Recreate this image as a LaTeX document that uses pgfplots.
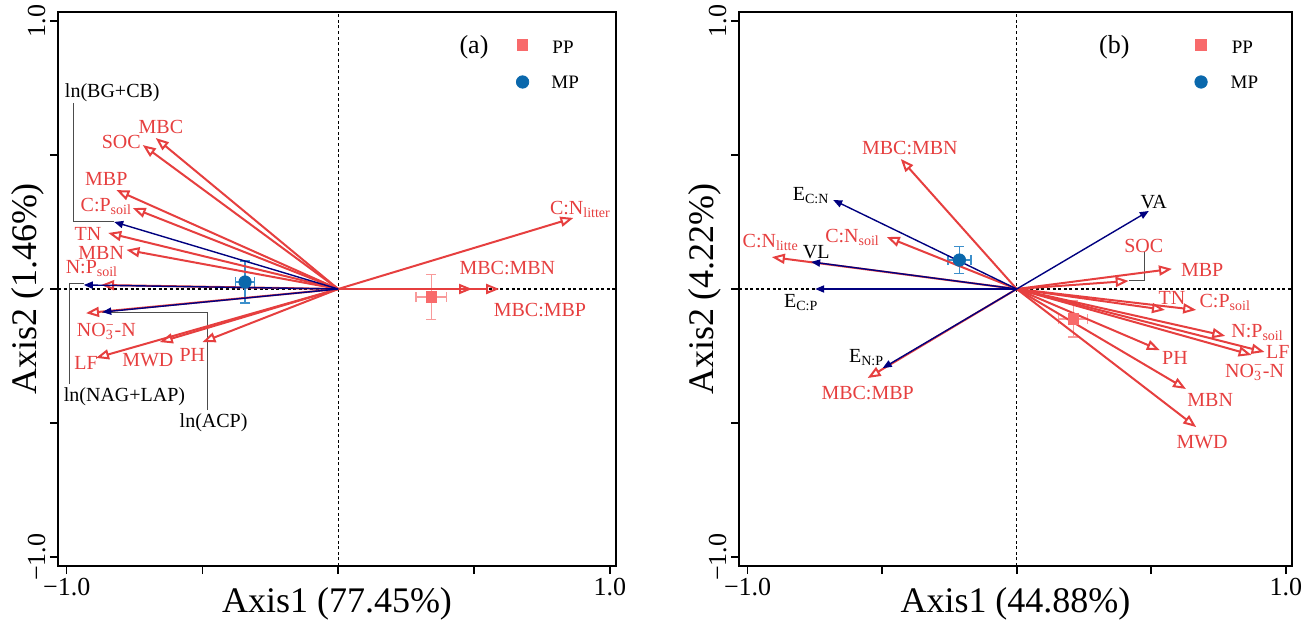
\documentclass[border=0pt]{standalone}
\usepackage{pgfplots}
\pgfplotsset{compat=1.18}
\usepackage{fontspec}
\setmainfont{Liberation Serif}
\usetikzlibrary{arrows.meta}
\definecolor{myred}{HTML}{E63F3F}
\definecolor{mynavy}{HTML}{00007F}
\definecolor{ppcol}{HTML}{F86A6B}
\definecolor{pperr}{HTML}{F89A9A}
\definecolor{mpcol}{HTML}{0A68AC}
\definecolor{mperr}{HTML}{3C8FCB}
\tikzset{
  rarr/.style={draw=myred, line width=1pt, -{Triangle[open, length=6.5pt, width=5pt]}},
  barr/.style={draw=mynavy, line width=0.7pt, -{Triangle[length=4.5pt, width=3.6pt]}},
  rl/.style={text=myred, font=\fontsize{10}{12}\selectfont, inner sep=0pt},
  bl/.style={text=black, font=\fontsize{10}{12}\selectfont, inner sep=0pt},
  lead/.style={draw=black!70, line width=0.5pt},
}
\newcommand{\R}[2]{\addplot[rarr] coordinates {(0,0) (#1,#2)};}
\newcommand{\B}[2]{\addplot[barr] coordinates {(0,0) (#1,#2)};}
\pgfplotsset{
  pcoa/.style={
    anchor=south west, scale only axis, height=277pt,
    xmin=-1.032, xmax=1.023, ymin=-1.033, ymax=1.033,
    clip=false,
    axis line style={line width=0.8pt},
    xtick={-1,-0.5,0,0.5,1}, xticklabels={−1.0,,,,1.0},
    ytick={-1,-0.5,0,0.5,1}, yticklabels={−1.0,,,,1.0},
    tick align=outside, tick pos=left, major tick length=4pt,
    tick style={line width=0.8pt, black},
    xticklabel style={font=\fontsize{13}{15}\selectfont, inner sep=2pt},
    yticklabel style={font=\fontsize{13}{15}\selectfont, rotate=90, anchor=south, inner sep=2pt},
    label style={font=\fontsize{18}{20}\selectfont},
    xlabel style={at={(axis description cs:0.5,-0.068)}, anchor=center},
  },
  zerol/.style={black, line width=0.6pt, dash pattern=on 1.5pt off 1.3pt},
  pperrs/.style={error bars/.cd, x dir=both, x explicit, y dir=both, y explicit,
    error bar style={color=pperr, line width=0.7pt},
    error mark options={rotate=90, mark size=2.5pt, color=pperr, line width=0.7pt}},
  mperrs/.style={error bars/.cd, x dir=both, x explicit, y dir=both, y explicit,
    error bar style={color=mperr, line width=0.7pt},
    error mark options={rotate=90, mark size=2.5pt, color=mperr, line width=0.7pt}},
}
\begin{document}
\begin{tikzpicture}
\useasboundingbox (0,0) rectangle (655.5pt,310.5pt);
% ---------------- panel (a)
\begin{axis}[pcoa, at={(29pt,27.5pt)}, width=279pt,
  xlabel={Axis1 (77.45\%)}, ylabel={Axis2 (1.46\%)},
  ylabel style={at={(axis description cs:-0.054,0.5)}, anchor=center}]
\addplot[zerol] coordinates {(0,-1.033) (0,1.033)};
\addplot[zerol] coordinates {(-1.032,0) (1.023,0)};
% points
\addplot[only marks, mark=square*, mark size=2.6pt, color=ppcol, pperrs]
  coordinates {(0.343,-0.030) +- (0.056,0.084)};
\addplot[only marks, mark=*, mark size=3.1pt, color=mpcol, mperrs]
  coordinates {(-0.343,0.026) +- (0.035,0.078)};
% leaders
\addplot[lead] coordinates {(-0.974,0.694) (-0.974,0.250) (-0.825,0.250)};
\addplot[lead] coordinates {(-0.937,0.019) (-0.989,0.019) (-0.989,-0.354)};
\addplot[lead] coordinates {(-0.869,-0.086) (-0.481,-0.086) (-0.481,-0.451)};
% red arrows
\R{-0.672}{0.563}
\R{-0.720}{0.537}
\R{-0.817}{0.369}
\R{-0.757}{0.302}
\R{-0.847}{0.209}
\R{-0.780}{0.146}
\R{-0.873}{0.015}
\R{-0.929}{-0.090}
\R{-0.892}{-0.257}
\R{-0.657}{-0.198}
\R{-0.500}{-0.198}
\R{0.866}{0.265}
\R{0.493}{0.0}
\R{0.593}{0.0}
% blue arrows
\B{-0.825}{0.250}
\B{-0.937}{0.015}
\B{-0.869}{-0.086}
% labels
\node[bl] at (axis cs:-0.832,0.731) {ln(BG+CB)};
\node[rl] at (axis cs:-0.653,0.604) {MBC};
\node[rl] at (axis cs:-0.799,0.549) {SOC};
\node[rl] at (axis cs:-0.854,0.410) {MBP};
\node[rl] at (axis cs:-0.854,0.306) {C:P\textsubscript{soil}};
\node[rl] at (axis cs:-0.922,0.205) {TN};
\node[rl] at (axis cs:-0.873,0.134) {MBN};
\node[rl] at (axis cs:-0.907,0.075) {N:P\textsubscript{soil}};
\node[rl] at (axis cs:-0.854,-0.160) {NO\rlap{\textsubscript{3}}\textsuperscript{−}-N};
\node[rl] at (axis cs:-0.929,-0.276) {LF};
\node[rl] at (axis cs:-0.701,-0.265) {MWD};
\node[rl] at (axis cs:-0.537,-0.246) {PH};
\node[bl] at (axis cs:-0.787,-0.403) {ln(NAG+LAP)};
\node[bl] at (axis cs:-0.459,-0.500) {ln(ACP)};
\node[rl] at (axis cs:0.892,0.295) {C:N\textsubscript{litter}};
\node[rl] at (axis cs:0.623,0.078) {MBC:MBN};
\node[rl] at (axis cs:0.743,-0.078) {MBC:MBP};
% legend
\node[font=\fontsize{13}{15}\selectfont, inner sep=0pt] at (axis cs:0.50,0.90) {(a)};
\addplot[only marks, mark=square*, mark size=2.6pt, color=ppcol] coordinates {(0.679,0.910)};
\addplot[only marks, mark=*, mark size=3.1pt, color=mpcol] coordinates {(0.679,0.772)};
\node[font=\fontsize{9.5}{11}\selectfont, inner sep=0pt] at (axis cs:0.828,0.903) {PP};
\node[font=\fontsize{9.5}{11}\selectfont, inner sep=0pt] at (axis cs:0.836,0.772) {MP};
\end{axis}
% ---------------- panel (b)
\begin{axis}[pcoa, at={(369.5pt,27.5pt)}, width=276.5pt,
  xlabel={Axis1 (44.88\%)}, ylabel={Axis2 (4.22\%)},
  ylabel style={at={(axis description cs:-0.0615,0.5)}, anchor=center}]
\addplot[zerol] coordinates {(0,-1.033) (0,1.033)};
\addplot[zerol] coordinates {(-1.032,0) (1.023,0)};
\addplot[only marks, mark=square*, mark size=2.6pt, color=ppcol, pperrs]
  coordinates {(0.210,-0.112) +- (0.054,0.067)};
\addplot[only marks, mark=*, mark size=3.1pt, color=mpcol, mperrs]
  coordinates {(-0.213,0.108) +- (0.043,0.050)};
\addplot[lead] coordinates {(0.476,0.138) (0.476,0.030) (0.416,0.030)};
% red arrows
\R{-0.431}{0.485}
\R{-0.483}{0.194}
\R{-0.910}{0.119}
\R{-0.554}{-0.332}
\R{0.577}{0.075}
\R{0.416}{0.030}
\R{0.551}{-0.078}
\R{0.667}{-0.078}
\R{0.775}{-0.175}
\R{0.921}{-0.235}
\R{0.873}{-0.246}
\R{0.532}{-0.228}
\R{0.629}{-0.373}
\R{0.667}{-0.515}
% blue arrows
\B{-0.682}{0.332}
\B{-0.764}{0.101}
\B{-0.749}{0.0}
\B{-0.498}{-0.295}
\B{0.491}{0.291}
% labels
\node[rl] at (axis cs:-0.397,0.526) {MBC:MBN};
\node[bl] at (axis cs:-0.764,0.347) {E\textsubscript{C:N}};
\node[rl] at (axis cs:-0.610,0.194) {C:N\textsubscript{soil}};
\node[rl] at (axis cs:-0.914,0.175) {C:N\textsubscript{litte}};
\node[bl] at (axis cs:-0.745,0.138) {VL};
\node[bl] at (axis cs:-0.801,-0.052) {E\textsubscript{C:P}};
\node[bl] at (axis cs:-0.558,-0.257) {E\textsubscript{N:P}};
\node[rl] at (axis cs:-0.554,-0.388) {MBC:MBP};
\node[bl] at (axis cs:0.509,0.325) {VA};
\node[rl] at (axis cs:0.472,0.160) {SOC};
\node[rl] at (axis cs:0.689,0.071) {MBP};
\node[rl] at (axis cs:0.577,-0.034) {TN};
\node[rl] at (axis cs:0.775,-0.052) {C:P\textsubscript{soil}};
\node[rl] at (axis cs:0.895,-0.164) {N:P\textsubscript{soil}};
\node[rl] at (axis cs:0.970,-0.235) {LF};
\node[rl] at (axis cs:0.884,-0.310) {NO\rlap{\textsubscript{3}}\textsuperscript{−}-N};
\node[rl] at (axis cs:0.588,-0.257) {PH};
\node[rl] at (axis cs:0.719,-0.414) {MBN};
\node[rl] at (axis cs:0.689,-0.571) {MWD};
% legend
\node[font=\fontsize{13}{15}\selectfont, inner sep=0pt] at (axis cs:0.363,0.90) {(b)};
\addplot[only marks, mark=square*, mark size=2.6pt, color=ppcol] coordinates {(0.685,0.910)};
\addplot[only marks, mark=*, mark size=3.1pt, color=mpcol] coordinates {(0.685,0.772)};
\node[font=\fontsize{9.5}{11}\selectfont, inner sep=0pt] at (axis cs:0.839,0.903) {PP};
\node[font=\fontsize{9.5}{11}\selectfont, inner sep=0pt] at (axis cs:0.846,0.772) {MP};
\end{axis}
\end{tikzpicture}
\end{document}
